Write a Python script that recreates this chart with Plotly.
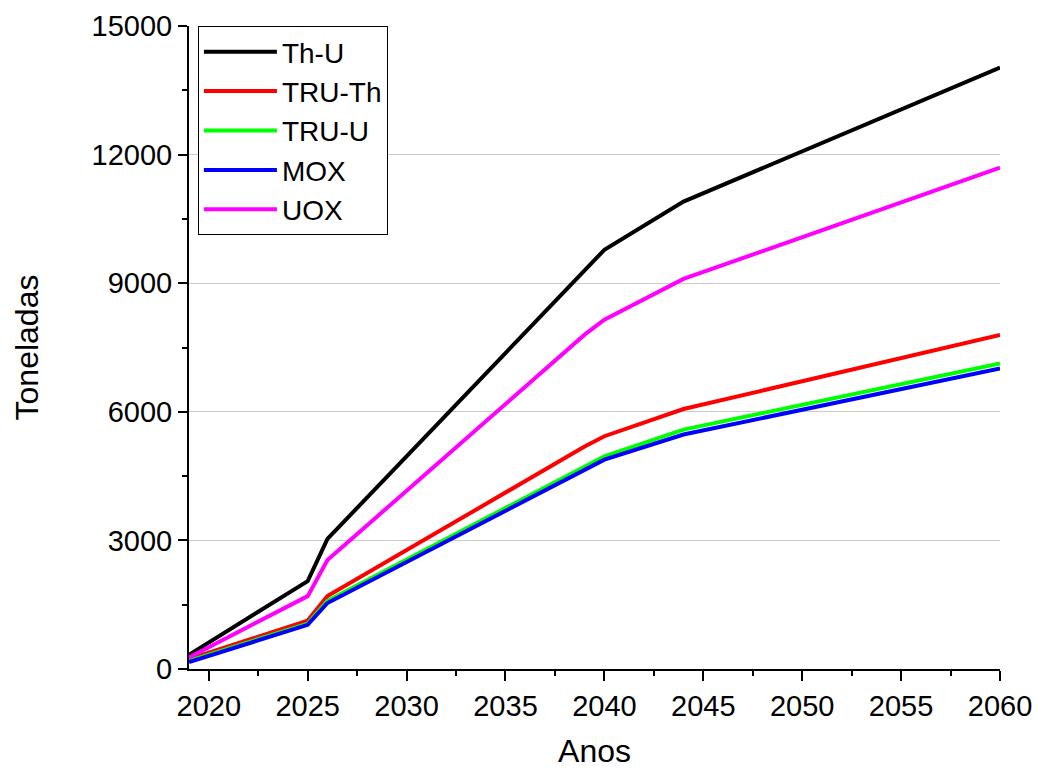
import plotly.graph_objects as go

# Accumulated spent fuel per fuel cycle scenario (tonnes)
anos = [2019, 2025, 2026, 2039, 2040, 2044, 2060]
th_u = [330, 2050, 3035, 9320, 9780, 10905, 14030]
tru_th = [230, 1130, 1700, 5190, 5430, 6065, 7790]
tru_u = [190, 1060, 1590, 4740, 4960, 5585, 7125]
mox = [160, 1030, 1540, 4670, 4885, 5470, 7010]
uox = [270, 1700, 2540, 7800, 8150, 9100, 11695]

series = [
    ("Th-U", th_u, "#000000"),
    ("TRU-Th", tru_th, "#ff0000"),
    ("TRU-U", tru_u, "#00ff00"),
    ("MOX", mox, "#0000ff"),
    ("UOX", uox, "#ff00ff"),
]

fig = go.Figure()
for name, vals, color in series:
    fig.add_trace(go.Scatter(
        x=anos, y=vals, name=name, mode="lines",
        line=dict(color=color, width=4),
    ))

font_family = "Liberation Sans, Arial, sans-serif"

fig.update_layout(
    width=1037, height=769,
    margin=dict(l=189, r=37, t=26, b=100, autoexpand=False),
    paper_bgcolor="white", plot_bgcolor="white",
    font=dict(family=font_family, size=29, color="black"),
    showlegend=True,
    legend=dict(
        x=0.011, y=1.0, xanchor="left", yanchor="top",
        bordercolor="black", borderwidth=1, bgcolor="white",
        font=dict(size=28), itemwidth=73,
        tracegroupgap=0,
    ),
    xaxis=dict(
        range=[2019, 2060], tickmode="linear", tick0=2020, dtick=5,
        automargin=False,
        showline=True, linecolor="black", linewidth=2,
        ticks="outside", ticklen=10, tickwidth=2, tickcolor="black",
        showgrid=False, zeroline=False,
        minor=dict(tickmode="linear", tick0=2020, dtick=2.5, ticks="outside",
                   ticklen=5, tickwidth=2, tickcolor="black", showgrid=False),
        title=dict(text="Anos", font=dict(size=32), standoff=26),
        tickfont=dict(size=29),
    ),
    yaxis=dict(
        range=[0, 15000], tickmode="linear", tick0=0, dtick=3000,
        tickformat="d", automargin=False,
        showline=True, linecolor="black", linewidth=2,
        ticks="outside", ticklen=9, tickwidth=2, tickcolor="black",
        showgrid=True, gridcolor="#cccccc", gridwidth=1, zeroline=False,
        minor=dict(tickmode="linear", tick0=0, dtick=1500, ticks="outside",
                   ticklen=5, tickwidth=2, tickcolor="black", showgrid=False),
        title=dict(text="Toneladas", font=dict(size=32), standoff=43),
        tickfont=dict(size=29),
    ),
)

fig.write_html("out.html")
